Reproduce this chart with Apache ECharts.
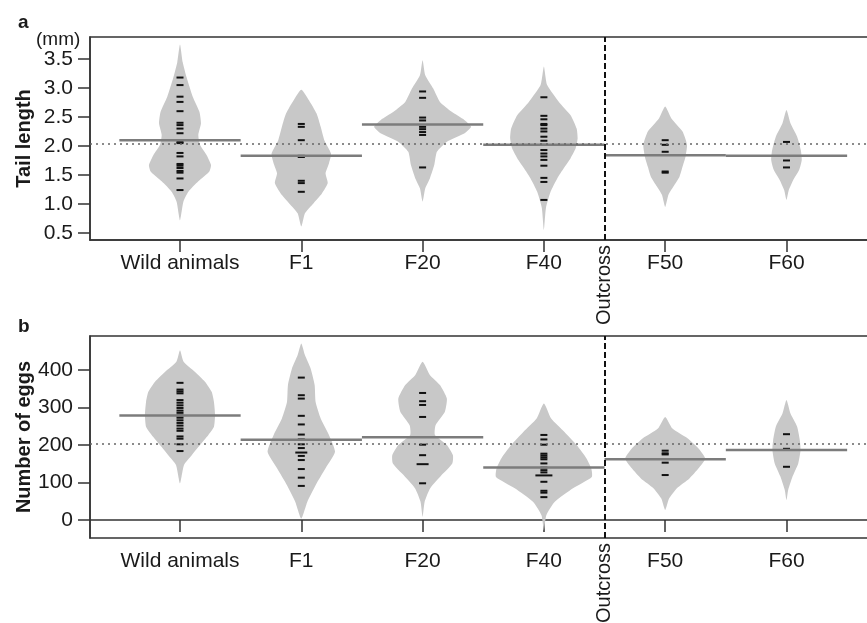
<!DOCTYPE html>
<html>
<head>
<meta charset="utf-8">
<script src="https://cdn.jsdelivr.net/npm/echarts@6/dist/echarts.min.js"></script>
<style>
html, body { margin: 0; padding: 0; background: #fff; }
#main { width: 867px; height: 623px; }
</style>
</head>
<body>
<div id="main"></div>
<script>
var myChart = echarts.init(document.getElementById('main'));

// 组别与位置
var groups = ['Wild animals', 'F1', 'F20', 'F40', 'F50', 'F60'];
var groupPos = [1, 2, 3, 4, 5, 6];
var outcrossPos = 4.5;

// a: tail length (mm)
var tailTicks = [0.5, 1.0, 1.5, 2.0, 2.5, 3.0, 3.5];
var tailMeans = [2.10, 1.83, 2.37, 2.02, 1.84, 1.83];
var tailGrandMean = 2.04;
var tailPoints = [
    [3.18, 3.05, 2.85, 2.76, 2.60, 2.40, 2.36, 2.30, 2.22, 2.07, 2.05, 1.88, 1.82, 1.69, 1.66, 1.62, 1.57, 1.54, 1.44, 1.24],
    [2.38, 2.33, 2.10, 1.83, 1.82, 1.81, 1.40, 1.36, 1.21],
    [2.94, 2.83, 2.49, 2.44, 2.33, 2.29, 2.24, 2.19, 1.63],
    [2.84, 2.52, 2.46, 2.38, 2.36, 2.30, 2.25, 2.16, 2.09, 2.02, 1.93, 1.87, 1.82, 1.76, 1.66, 1.45, 1.38, 1.07],
    [2.10, 2.02, 1.90, 1.56, 1.54],
    [2.07, 1.75, 1.63]
];
// bean outline: [value, half width]
var tailBeans = [
    [[3.75,0],[3.45,0.022],[3.18,0.055],[2.85,0.105],[2.59,0.16],[2.39,0.173],[2.19,0.151],[2.02,0.165],[1.84,0.22],[1.67,0.256],[1.56,0.242],[1.39,0.151],[1.21,0.069],[1.04,0.028],[0.72,0]],
    [[2.97,0],[2.79,0.063],[2.56,0.126],[2.33,0.16],[2.10,0.19],[1.87,0.245],[1.70,0.228],[1.53,0.2],[1.36,0.218],[1.18,0.17],[1.01,0.1],[0.84,0.03],[0.61,0]],
    [[3.48,0],[3.22,0.022],[2.99,0.088],[2.76,0.143],[2.59,0.24],[2.45,0.344],[2.33,0.40],[2.22,0.347],[2.07,0.198],[1.90,0.118],[1.67,0.096],[1.44,0.06],[1.27,0.022],[1.04,0]],
    [[3.37,0],[3.05,0.027],[2.76,0.124],[2.53,0.22],[2.30,0.27],[2.13,0.278],[1.96,0.262],[1.79,0.22],[1.62,0.165],[1.44,0.11],[1.21,0.055],[0.93,0.017],[0.55,0]],
    [[2.68,0],[2.48,0.05],[2.25,0.143],[2.02,0.18],[1.82,0.168],[1.64,0.143],[1.47,0.118],[1.30,0.068],[1.16,0.027],[0.95,0]],
    [[2.62,0],[2.39,0.033],[2.16,0.088],[1.93,0.118],[1.76,0.126],[1.59,0.105],[1.41,0.055],[1.24,0.019],[1.07,0]]
];

// b: number of eggs
var eggTicks = [0, 100, 200, 300, 400];
var eggMeans = [279, 214, 221, 140, 162, 187];
var eggGrandMean = 203;
var eggPoints = [
    [366, 348, 343, 338, 320, 313, 306, 299, 292, 286, 279, 273, 266, 259, 252, 244, 238, 223, 217, 202, 184],
    [380, 333, 324, 278, 255, 228, 215, 202, 192, 180, 180, 171, 160, 136, 113, 91],
    [339, 317, 307, 275, 201, 173, 149, 149, 98],
    [227, 215, 201, 177, 172, 167, 162, 151, 140, 133, 127, 119, 119, 119, 102, 78, 73, 61],
    [185, 178, 175, 153, 120],
    [229, 190, 142]
];
var eggBeans = [
    [[453,0],[422,0.03],[395,0.124],[369,0.206],[342,0.261],[315,0.28],[280,0.289],[249,0.28],[227,0.234],[200,0.165],[173,0.097],[147,0.033],[98,0]],
    [[471,0],[440,0.03],[404,0.077],[360,0.11],[315,0.118],[271,0.16],[227,0.228],[182,0.278],[138,0.2],[93,0.118],[49,0.05],[4,0]],
    [[422,0],[387,0.06],[360,0.143],[324,0.2],[289,0.184],[253,0.107],[227,0.102],[200,0.2],[173,0.25],[151,0.245],[120,0.157],[85,0.063],[49,0.017],[9,0]],
    [[311,0],[271,0.06],[235,0.17],[200,0.27],[165,0.35],[138,0.39],[115,0.395],[85,0.24],[49,0.09],[13,0.02],[-27,0]],
    [[275,0],[244,0.06],[218,0.184],[191,0.275],[164,0.33],[138,0.275],[111,0.2],[85,0.097],[58,0.033],[27,0]],
    [[320,0],[284,0.033],[249,0.088],[213,0.11],[187,0.116],[151,0.097],[116,0.05],[80,0.014],[53,0]]
];

var font = 'Liberation Sans, Arial, sans-serif';
var textColor = '#1a1a1a';
var xMin = 0.258, xMax = 6.771;

function beanSeries(beans, means, g) {
    return {
        type: 'custom', xAxisIndex: g * 2, yAxisIndex: g, z: 2, silent: true,
        data: groupPos.map(function (p, i) { return [p, means[i]]; }),
        renderItem: function (params, api) {
            var prof = beans[params.dataIndex];
            var p = groupPos[params.dataIndex];
            var pts = [];
            for (var k = 0; k < prof.length; k++) {
                pts.push(api.coord([p + prof[k][1], prof[k][0]]));
            }
            for (var k = prof.length - 2; k >= 1; k--) {
                pts.push(api.coord([p - prof[k][1], prof[k][0]]));
            }
            return { type: 'polygon', shape: { points: pts, smooth: 0.18 }, style: { fill: '#c8c8c8' } };
        }
    };
}

function tickSeries(points, g) {
    var data = [];
    points.forEach(function (vals, i) {
        var seen = {};
        vals.forEach(function (v) { seen[v] = (seen[v] || 0) + 1; });
        Object.keys(seen).forEach(function (k) { data.push([groupPos[i], +k, seen[k]]); });
    });
    return {
        type: 'custom', xAxisIndex: g * 2, yAxisIndex: g, z: 3, silent: true,
        data: data,
        renderItem: function (params, api) {
            var c = api.coord([api.value(0), api.value(1)]);
            var half = 3.5 + 2.5 * (api.value(2) - 1);
            return {
                type: 'line',
                shape: { x1: c[0] - half, y1: c[1], x2: c[0] + half, y2: c[1] },
                style: { stroke: '#111', lineWidth: 2 }
            };
        }
    };
}

function meanSeries(means, g) {
    return {
        type: 'custom', xAxisIndex: g * 2, yAxisIndex: g, z: 4, silent: true,
        data: groupPos.map(function (p, i) { return [p, means[i]]; }),
        renderItem: function (params, api) {
            var a = api.coord([api.value(0) - 0.5, api.value(1)]);
            var b = api.coord([api.value(0) + 0.5, api.value(1)]);
            return {
                type: 'line',
                shape: { x1: a[0], y1: a[1], x2: b[0], y2: b[1] },
                style: { stroke: '#7c7c7c', lineWidth: 2.5 }
            };
        }
    };
}

function refSeries(grand, g) {
    return [{
        type: 'line', xAxisIndex: g * 2, yAxisIndex: g, z: 1, data: [],
        markLine: {
            silent: true, symbol: 'none', label: { show: false },
            lineStyle: { type: [2, 4], color: '#666', width: 1.5 },
            data: [{ yAxis: grand }]
        }
    }, {
        type: 'line', xAxisIndex: g * 2, yAxisIndex: g, z: 5, data: [],
        markLine: {
            silent: true, symbol: 'none', label: { show: false },
            lineStyle: { type: [6, 3], color: '#111', width: 2 },
            data: [{ xAxis: outcrossPos }]
        }
    }];
}

function xAxes(g) {
    return [{
        type: 'value', gridIndex: g, min: xMin, max: xMax, position: 'bottom',
        axisLine: { show: true, lineStyle: { color: '#333', width: 1.5 } },
        axisTick: { show: true, length: 12, customValues: groupPos, lineStyle: { color: '#333', width: 1.5 } },
        axisLabel: {
            customValues: groupPos, margin: 13, fontSize: 21, fontFamily: font, color: textColor,
            formatter: function (v) { return groups[groupPos.indexOf(v)]; }
        },
        splitLine: { show: false }
    }, {
        type: 'value', gridIndex: g, min: xMin, max: xMax, position: 'bottom',
        axisLine: { show: false }, axisTick: { show: false }, splitLine: { show: false },
        axisLabel: {
            customValues: [outcrossPos], rotate: 90, margin: 5, fontSize: 20, fontFamily: font, color: textColor,
            formatter: function () { return 'Outcross'; }
        }
    }];
}

function yAxis(g, min, max, ticks, name, fmt) {
    return {
        type: 'value', gridIndex: g, min: min, max: max,
        axisLine: { show: true, lineStyle: { color: '#333', width: 1.5 } },
        axisTick: { show: true, length: 12, customValues: ticks, lineStyle: { color: '#333', width: 1.5 } },
        axisLabel: { customValues: ticks, margin: 17, fontSize: 21, fontFamily: font, color: textColor, formatter: fmt },
        splitLine: { show: false },
        name: name, nameLocation: 'middle', nameRotate: 90, nameGap: 56, nameMoveOverlap: false,
        nameTextStyle: { fontSize: 20, fontWeight: 'bold', fontFamily: font, color: textColor }
    };
}

var gridStyle = { show: true, borderColor: '#333', borderWidth: 1.5, outerBoundsMode: 'none' };

myChart.setOption({
    animation: false,
    title: [
        { text: 'a', left: 13, top: 8, textStyle: { fontSize: 19, fontWeight: 'bold', fontFamily: font, color: textColor } },
        { text: '(mm)', left: 31, top: 25, textStyle: { fontSize: 19, fontWeight: 'normal', fontFamily: font, color: textColor } },
        { text: 'b', left: 13, top: 312, textStyle: { fontSize: 19, fontWeight: 'bold', fontFamily: font, color: textColor } }
    ],
    grid: [
        Object.assign({ left: 90, top: 37, width: 790, height: 203 }, gridStyle),
        Object.assign({ left: 90, top: 336, width: 790, height: 202 }, gridStyle)
    ],
    xAxis: xAxes(0).concat(xAxes(1)),
    yAxis: [
        yAxis(0, 0.379, 3.879, tailTicks, 'Tail length', function (v) { return v.toFixed(1); }),
        yAxis(1, -48, 491, eggTicks, 'Number of eggs', function (v) { return String(v); })
    ],
    series: [
        beanSeries(tailBeans, tailMeans, 0),
        tickSeries(tailPoints, 0),
        meanSeries(tailMeans, 0),
        beanSeries(eggBeans, eggMeans, 1),
        tickSeries(eggPoints, 1),
        meanSeries(eggMeans, 1)
    ].concat(refSeries(tailGrandMean, 0)).concat(refSeries(eggGrandMean, 1))
});
</script>
</body>
</html>
